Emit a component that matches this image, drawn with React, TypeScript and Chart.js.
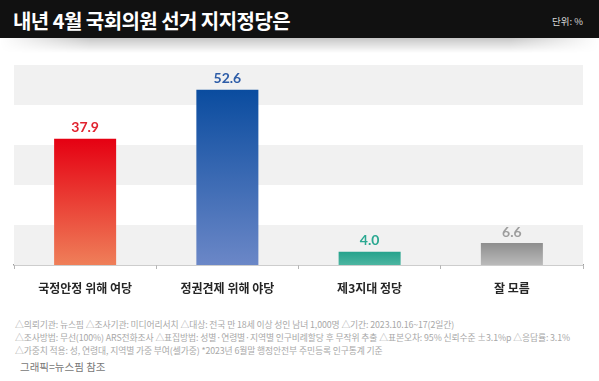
import React, { useEffect, useRef } from "react";
import { Chart, registerables } from "chart.js";

Chart.register(...registerables);

const categories = ["국정안정 위해 여당", "정권견제 위해 야당", "제3지대 정당", "잘 모름"];
const values = [37.9, 52.6, 4.0, 6.6];
const topColors = ["#e50012", "#0a4c9f", "#25a28c", "#8e8e8e"];
const bottomColors = ["#ef7f59", "#6b87c7", "#4cb5a1", "#bababa"];
const labelColors = ["#e1222e", "#2e5da8", "#2aa891", "#9d9d9d"];
const yTickValues = [0, 12, 24, 36, 48, 60];

const title = "내년 4월 국회의원 선거 지지정당은";
const unitText = "단위: %";
const notes = [
  "△의뢰기관: 뉴스핌 △조사기관: 미디어리서치 △대상: 전국 만 18세 이상 성인 남녀 1,000명 △기간: 2023.10.16~17(2일간)",
  "△조사방법: 무선(100%) ARS전화조사 △표집방법: 성별·연령별·지역별 인구비례할당 후 무작위 추출 △표본오차: 95% 신뢰수준 ±3.1%p △응답률: 3.1%",
  "△가중치 적용: 성, 연령대, 지역별 가중 부여(셀가중) *2023년 6월말 행정안전부 주민등록 인구통계 기준",
];
const source = "그래픽=뉴스핌 참조";

const KR = '"Noto Sans CJK KR", "Noto Sans", sans-serif';

const bandsPlugin = {
  id: "bands",
  beforeDatasetsDraw(chart: any) {
    const { ctx, chartArea, scales } = chart;
    const y = scales.y;
    ctx.save();
    ctx.fillStyle = "#f1f1f1";
    for (let i = 0; i < yTickValues.length - 1; i += 2) {
      const y0 = y.getPixelForValue(yTickValues[i]);
      const y1 = y.getPixelForValue(yTickValues[i + 1]);
      ctx.fillRect(chartArea.left, y1, chartArea.right - chartArea.left, y0 - y1);
    }
    ctx.restore();
  },
};

const valueLabelPlugin = {
  id: "valueLabels",
  afterDatasetsDraw(chart: any) {
    const { ctx } = chart;
    const meta = chart.getDatasetMeta(0);
    ctx.save();
    ctx.font = `bold 14px Lato, ${KR}`;
    ctx.textAlign = "center";
    ctx.textBaseline = "middle";
    meta.data.forEach((bar: any, i: number) => {
      ctx.fillStyle = labelColors[i];
      ctx.fillText(values[i].toFixed(1), bar.x, bar.y - 11);
    });
    ctx.restore();
  },
};

function BarChart() {
  const ref = useRef<HTMLCanvasElement | null>(null);
  useEffect(() => {
    if (!ref.current) return;
    const chart = new Chart(ref.current, {
      type: "bar",
      data: {
        labels: categories,
        datasets: [
          {
            data: values,
            backgroundColor: (c: any) => {
              const ch = c.chart;
              const i = c.dataIndex;
              const y = ch.scales && ch.scales.y;
              if (!ch.chartArea || !y || i === undefined) return topColors[i || 0];
              const g = ch.ctx.createLinearGradient(0, y.getPixelForValue(values[i]), 0, y.getPixelForValue(0));
              g.addColorStop(0, topColors[i]);
              g.addColorStop(1, bottomColors[i]);
              return g;
            },
            borderWidth: 0,
            barPercentage: 0.436,
            categoryPercentage: 1,
          },
        ],
      },
      options: {
        responsive: false,
        animation: false,
        devicePixelRatio: 1,
        layout: { padding: { left: 14, right: 16, top: 25, bottom: 4.6 } },
        plugins: { legend: { display: false }, tooltip: { enabled: false } },
        scales: {
          x: {
            grid: {
              offset: true,
              drawOnChartArea: false,
              drawTicks: true,
              tickLength: 4,
              color: "#b5b5b5",
            },
            border: { color: "#9c9c9c", width: 1.5 },
            ticks: {
              padding: 12,
              color: "#262626",
              font: { family: KR, size: 12, weight: "bold" },
            },
          },
          y: {
            display: false,
            min: 0,
            max: 60,
            ticks: { stepSize: 12 },
          },
        },
      },
      plugins: [bandsPlugin, valueLabelPlugin],
    } as any);
    return () => chart.destroy();
  }, []);
  return (
    <canvas
      ref={ref}
      width={599}
      height={272}
      style={{ position: "absolute", left: 0, top: 40, width: 599, height: 272 }}
    />
  );
}

export default function App() {
  return (
    <div
      style={{
        position: "absolute",
        left: 0,
        top: 0,
        width: 599,
        height: 381,
        background: "#fff",
        overflow: "hidden",
        fontFamily: KR,
      }}
    >
      <div style={{ position: "absolute", left: 0, top: 0, width: 599, height: 38, background: "#111" }} />
      <div
        style={{
          position: "absolute",
          left: 0,
          top: 38,
          width: 599,
          height: 15,
          background: "linear-gradient(to bottom, rgba(0,0,0,0.22), rgba(0,0,0,0))",
          WebkitMaskImage: "linear-gradient(to right, transparent 0%, black 15%, black 85%, transparent 100%)",
          maskImage: "linear-gradient(to right, transparent 0%, black 15%, black 85%, transparent 100%)",
        }}
      />
      <div
        style={{
          position: "absolute",
          left: 13,
          top: 2,
          height: 38,
          lineHeight: "38px",
          color: "#fff",
          fontSize: 20,
          fontWeight: 700,
          letterSpacing: -0.55,
          whiteSpace: "nowrap",
        }}
      >
        {title}
      </div>
      <div
        style={{
          position: "absolute",
          right: 16,
          top: 2,
          height: 38,
          lineHeight: "38px",
          color: "#d8d8d8",
          fontSize: 9.5,
          whiteSpace: "nowrap",
        }}
      >
        {unitText}
      </div>
      <BarChart />
      <div
        style={{
          position: "absolute",
          left: 15,
          top: 317.5,
          color: "#a8a8a8",
          fontSize: 8.8,
          lineHeight: "13px",
          whiteSpace: "nowrap",
          letterSpacing: -0.1,
        }}
      >
        {notes.map((n, i) => (
          <div key={i}>{n}</div>
        ))}
      </div>
      <div
        style={{
          position: "absolute",
          left: 20,
          top: 360,
          color: "#777",
          fontSize: 10.5,
          lineHeight: "14px",
          whiteSpace: "nowrap",
        }}
      >
        {source}
      </div>
    </div>
  );
}
